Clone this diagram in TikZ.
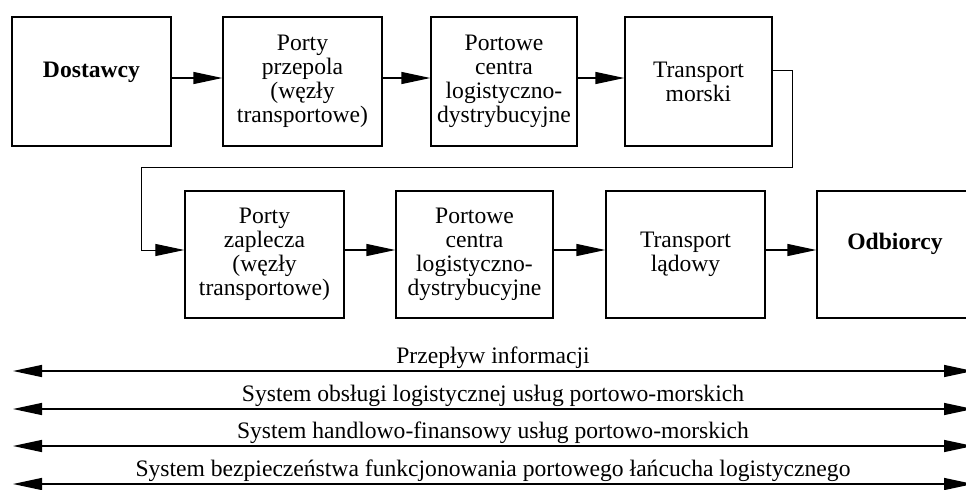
\documentclass[tikz,border=0pt]{standalone}
\usepackage{fontspec}
\setmainfont{Liberation Serif}
\usetikzlibrary{arrows.meta}

\begin{document}
\begin{tikzpicture}[x=0.5pt, y=-0.5pt,
    blok/.style={draw, line width=0.65pt, align=center, inner sep=0pt, font=\fontsize{11.8pt}{12pt}\selectfont},
    strz/.style={line width=0.65pt, -{Triangle[length=14.5pt,width=6pt]}},
    pasek/.style={line width=0.7pt, {Triangle[length=14.5pt,width=6pt]}-{Triangle[length=14.5pt,width=6pt]}},
    opis/.style={font=\fontsize{11.8pt}{12pt}\selectfont, anchor=base, midway, yshift=4pt}]
  \useasboundingbox (0,0) rectangle (966,489);
  % pierwszy rzad
  \node[blok, minimum width=79.5pt, minimum height=64.5pt, text height=8pt, text depth=12.5pt] (dost) at (91.5,81.5) {\textbf{Dostawcy}};
  \node[blok, minimum width=79.5pt, minimum height=64.5pt] (przep) at (302.5,81.5) {Porty\\przepola\\(węzły\\transportowe)};
  \node[blok, minimum width=73pt, minimum height=64.5pt] (pcld1) at (504,81.5) {Portowe\\centra\\logistyczno-\\dystrybucyjne};
  \node[blok, minimum width=73.5pt, minimum height=64.5pt] (morski) at (698.5,81.5) {Transport\\morski};
  % drugi rzad
  \node[blok, minimum width=79.5pt, minimum height=63.5pt] (zapl) at (264.5,254.5) {Porty\\zaplecza\\(węzły\\transportowe)};
  \node[blok, minimum width=78.5pt, minimum height=63.5pt] (pcld2) at (474.5,254.5) {Portowe\\centra\\logistyczno-\\dystrybucyjne};
  \node[blok, minimum width=79.5pt, minimum height=63.5pt] (ladowy) at (685.5,254.5) {Transport\\lądowy};
  \node[blok, minimum width=78pt, minimum height=63.5pt, text height=8pt, text depth=13.5pt] (odb) at (895,254.5) {\textbf{Odbiorcy}};

  \draw[strz] ([yshift=1.75pt]dost.east) -- ([yshift=1.75pt]przep.west);
  \draw[strz] ([yshift=1.75pt]przep.east) -- ([yshift=1.75pt]pcld1.west);
  \draw[strz] ([yshift=1.75pt]pcld1.east) -- ([yshift=1.75pt]morski.west);
  \draw[strz, line width=0.5pt] ([yshift=5.75pt]morski.east) -| (792,167) -| (141,250) -- ([yshift=2.25pt]zapl.west);
  \draw[strz] ([yshift=2.25pt]zapl.east) -- ([yshift=2.25pt]pcld2.west);
  \draw[strz] ([yshift=2.25pt]pcld2.east) -- ([yshift=2.25pt]ladowy.west);
  \draw[strz] ([yshift=2.25pt]ladowy.east) -- ([yshift=2.25pt]odb.west);

  % systemy wspierajace
  \coordinate (l1) at (13,371); \coordinate (p1) at (973,371);
  \coordinate (l2) at (13,409); \coordinate (p2) at (973,409);
  \coordinate (l3) at (13,446); \coordinate (p3) at (973,446);
  \coordinate (l4) at (13,484); \coordinate (p4) at (973,484);
  \draw[pasek] (l1) -- (p1) node[opis] {Przepływ informacji};
  \draw[pasek] (l2) -- (p2) node[opis] {System obsługi logistycznej usług portowo-morskich};
  \draw[pasek] (l3) -- (p3) node[opis] {System handlowo-finansowy usług portowo-morskich};
  \draw[pasek] (l4) -- (p4) node[opis] {System bezpieczeństwa funkcjonowania portowego łańcucha logistycznego};
\end{tikzpicture}
\end{document}
